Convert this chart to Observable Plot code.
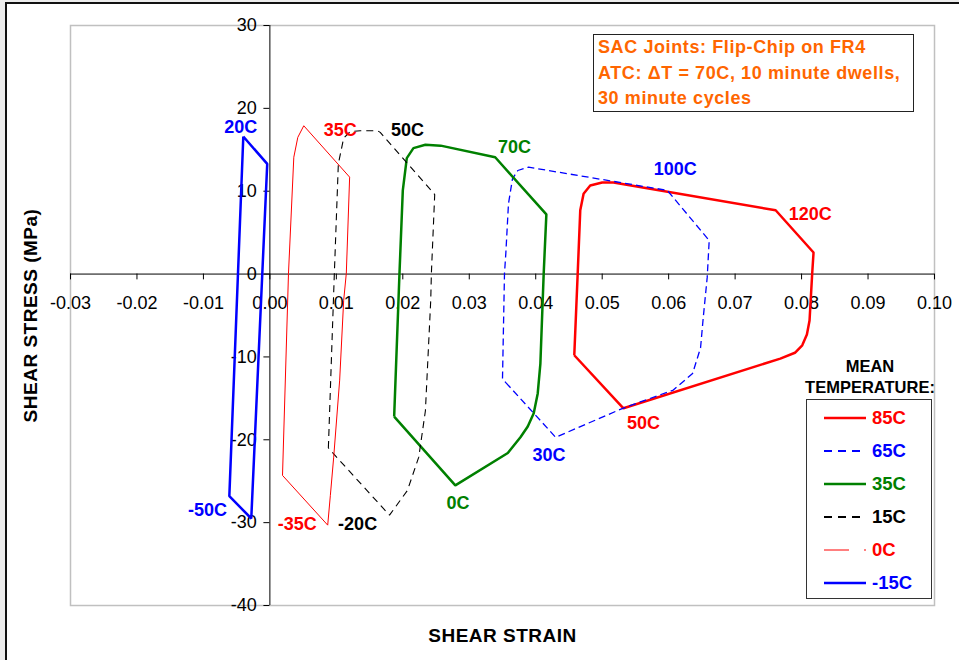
<!DOCTYPE html>
<html>
<head>
<meta charset="utf-8">
<script src="https://cdn.jsdelivr.net/npm/d3@7"></script>
<script src="https://cdn.jsdelivr.net/npm/@observablehq/plot@0.6"></script>
<style>
  html, body { margin: 0; padding: 0; background: #ececec; }
  #wrap { position: relative; width: 959px; height: 660px; overflow: hidden; font-family: "Liberation Sans", Arial, sans-serif; }
  #sheet { position: absolute; left: 5px; top: 2px; width: 970px; height: 680px; background: #fff; border-left: 2px solid #111; border-top: 2px solid #111; }
  #chart { position: absolute; left: 0; top: 0; }
  #note { position: absolute; left: 593px; top: 34px; width: 315px; height: 76px; border: 1.5px solid #222; background: #fff;
          color: #ff6600; font-weight: bold; font-size: 18px; letter-spacing: 0.6px; line-height: 25.5px; padding: 0 0 0 4px; white-space: nowrap; }
  #legendTitle { position: absolute; left: 790px; top: 356px; width: 160px; text-align: center; font-weight: bold; font-size: 16.5px; line-height: 21px; color: #000; }
  #legend { position: absolute; left: 806px; top: 399px; width: 124px; height: 198px; border: 1.5px solid #333; background: #fff; }
  .row { position: absolute; left: 0; height: 20px; }
  .row svg { position: absolute; left: 16px; top: 0; }
  .row span { position: absolute; left: 65px; top: -1px; font-weight: bold; font-size: 18.5px; line-height: 22px; }
</style>
</head>
<body>
<div id="wrap">
  <div id="sheet"></div>
  <div id="chart"></div>
  <div id="note">SAC Joints: Flip-Chip on FR4<br>ATC: &Delta;T = 70C, 10 minute dwells,<br>30 minute cycles</div>
  <div id="legendTitle">MEAN<br>TEMPERATURE:</div>
  <div id="legend"></div>
</div>
<script>
// Axis ticks
const xTicks = [-0.03, -0.02, -0.01, 0.00, 0.01, 0.02, 0.03, 0.04, 0.05, 0.06, 0.07, 0.08, 0.09, 0.10];
const xTickLabels = ["-0.03", "-0.02", "-0.01", "0.00", "0.01", "0.02", "0.03", "0.04", "0.05", "0.06", "0.07", "0.08", "0.09", "0.10"];
const yTicks = [-40, -30, -20, -10, 0, 10, 20, 30];
const yTickLabels = ["-40", "-30", "-20", "-10", "0", "10", "20", "30"];

// Hysteresis loops: [shear strain, shear stress (MPa)] for each mean temperature
const loop85C = [
  [0.0458, -9.8], [0.0463, -0.2], [0.0467, 7.7], [0.0472, 9.7], [0.0482, 10.7], [0.0500, 11.05],
  [0.0517, 11.05], [0.0761, 7.7], [0.0818, 2.6], [0.0816, 0.1], [0.0812, -5.6], [0.0808, -7.3],
  [0.0801, -8.6], [0.0790, -9.5], [0.0768, -10.2], [0.0532, -16.2]
];
const loop65C = [
  [0.0355, -13.1], [0.0430, -19.7], [0.0531, -16.2], [0.0607, -14.0], [0.0636, -12.0], [0.0648, -8.9],
  [0.0652, -5.3], [0.0658, -0.4], [0.0661, 4.05], [0.0598, 10.1], [0.0389, 12.9], [0.0373, 12.5],
  [0.0365, 11.5], [0.0359, 8.5], [0.0355, 2.5], [0.0353, 0.1], [0.0350, -12.6]
];
const loop35C = [
  [0.0187, -17.2], [0.0195, 0.1], [0.0200, 10.1], [0.0206, 14.0], [0.0216, 15.2], [0.0234, 15.6],
  [0.0257, 15.5], [0.0339, 14.1], [0.0416, 7.2], [0.0412, 0.1], [0.0407, -10.8], [0.0403, -14.4],
  [0.0397, -16.8], [0.0388, -18.4], [0.0377, -19.7], [0.0358, -21.6], [0.0279, -25.5]
];
const loop15C = [
  [0.0088, -21.0], [0.0097, 0.1], [0.0103, 13.3], [0.0111, 16.4], [0.0121, 17.2], [0.0136, 17.3],
  [0.0162, 17.3], [0.0166, 17.1], [0.0248, 9.6], [0.0243, 0.1], [0.0242, -3.2], [0.0234, -16.5],
  [0.0224, -22.1], [0.0207, -26.1], [0.0180, -29.1]
];
const loop0C = [
  [0.0019, -24.3], [0.0028, 0.1], [0.0036, 14.1], [0.0042, 16.5], [0.0051, 17.9], [0.0120, 11.7],
  [0.0115, 0.1], [0.0111, -3.2], [0.0105, -12.8], [0.0096, -22.1], [0.0091, -26.7], [0.0087, -30.3]
];
const loopMinus15C = [
  [-0.0040, 16.6], [-0.0004, 13.3], [-0.0028, -29.5], [-0.0061, -26.8]
];

// Temperatures reached at the loop corners
const cornerLabels = [
  {t: "20C", x: -0.0044, y: 17.7, c: "#0000ff"},
  {t: "-50C", x: -0.0094, y: -28.5, c: "#0000ff"},
  {t: "35C", x: 0.0106, y: 17.4, c: "#ff0000"},
  {t: "-35C", x: 0.0041, y: -30.2, c: "#ff0000"},
  {t: "50C", x: 0.0207, y: 17.3, c: "#000000"},
  {t: "-20C", x: 0.0132, y: -30.2, c: "#000000"},
  {t: "70C", x: 0.0368, y: 15.3, c: "#008000"},
  {t: "0C", x: 0.0283, y: -27.7, c: "#008000"},
  {t: "100C", x: 0.0610, y: 12.7, c: "#0000ff"},
  {t: "30C", x: 0.0420, y: -21.9, c: "#0000ff"},
  {t: "120C", x: 0.0813, y: 7.2, c: "#ff0000"},
  {t: "50C", x: 0.0562, y: -18.0, c: "#ff0000"}
];

// Series styling, in legend order
const series = [
  {name: "85C", data: loop85C, stroke: "#ff0000", width: 2.5, dash: null},
  {name: "65C", data: loop65C, stroke: "#0000ff", width: 1.3, dash: "7,4"},
  {name: "35C", data: loop35C, stroke: "#008000", width: 2.5, dash: null},
  {name: "15C", data: loop15C, stroke: "#000000", width: 1.1, dash: "7,5"},
  {name: "0C", data: loop0C, stroke: "#ff0000", width: 1, dash: null},
  {name: "-15C", data: loopMinus15C, stroke: "#0000ff", width: 2.5, dash: null}
];

const closeLoop = pts => pts.concat([pts[0]]);
const font = "'Liberation Sans', Arial, sans-serif";

const loopMarks = series.map(s => Plot.line(closeLoop(s.data), {
  x: d => d[0], y: d => d[1],
  stroke: s.stroke, strokeWidth: s.width,
  strokeDasharray: s.dash || undefined,
  strokeLinejoin: "miter", strokeLinecap: "butt"
}));

const xTitle = "SHEAR STRAIN";
const yTitle = "SHEAR STRESS (MPa)";

const chart = Plot.plot({
  width: 959,
  height: 660,
  marginLeft: 70,
  marginRight: 25,
  marginTop: 25,
  marginBottom: 55,
  style: {background: "transparent", fontFamily: font, overflow: "visible"},
  x: {domain: [-0.03, 0.10], axis: null},
  y: {domain: [-40, 30], axis: null},
  marks: [
    Plot.frame({stroke: "#c0c0c0", strokeWidth: 1.5}),
    // axes crossing at the origin
    Plot.ruleY([0], {stroke: "#000", strokeWidth: 1}),
    Plot.ruleX([0], {stroke: "#000", strokeWidth: 1}),
    Plot.ruleX(xTicks, {x: d => d, y1: 0, y2: -0.7, stroke: "#000", strokeWidth: 1}),
    Plot.ruleY(yTicks, {y: d => d, x1: 0, x2: -0.0009, stroke: "#000", strokeWidth: 1}),
    Plot.text(xTicks, {x: d => d, y: d => 0, dy: 29, text: (d, i) => xTickLabels[i], fontSize: 18, fill: "#000"}),
    Plot.text(yTicks, {x: d => 0, y: d => d, dx: -13, textAnchor: "end", text: (d, i) => yTickLabels[i], fontSize: 18, fill: "#000"}),
    ...loopMarks,
    Plot.text(cornerLabels, {x: "x", y: "y", text: "t", fill: "c", fontWeight: "bold", fontSize: 18}),
    // axis titles
    Plot.text([xTitle], {frameAnchor: "bottom", dy: 36, text: d => d, fontWeight: "bold", fontSize: 19, fill: "#000"}),
    Plot.text([yTitle], {frameAnchor: "left", textAnchor: "middle", dx: -40, rotate: -90, text: d => d, fontWeight: "bold", fontSize: 19, fill: "#000"})
  ]
});
d3.select(chart).selectAll("text")
  .filter(function() { const t = this.textContent; return t === xTitle || t === yTitle; })
  .style("letter-spacing", "0.5px");
document.getElementById("chart").appendChild(chart);

// Legend rows
const legend = d3.select("#legend");
series.forEach((s, i) => {
  const row = legend.append("div").attr("class", "row").style("top", (8 + i * 33) + "px");
  const svg = row.append("svg").attr("width", 46).attr("height", 20);
  if (s.name === "0C") {
    svg.append("line").attr("x1", 1).attr("x2", 26).attr("y1", 10).attr("y2", 10)
      .attr("stroke", s.stroke).attr("stroke-width", 1);
    svg.append("line").attr("x1", 41).attr("x2", 43).attr("y1", 10).attr("y2", 10)
      .attr("stroke", s.stroke).attr("stroke-width", 1);
  } else {
    svg.append("line").attr("x1", 1).attr("x2", 43).attr("y1", 10).attr("y2", 10)
      .attr("stroke", s.stroke).attr("stroke-width", s.dash ? 2 : 2.5)
      .attr("stroke-dasharray", s.dash ? "8,6" : null);
  }
  row.append("span").style("color", s.stroke).text(s.name);
});
</script>
</body>
</html>
